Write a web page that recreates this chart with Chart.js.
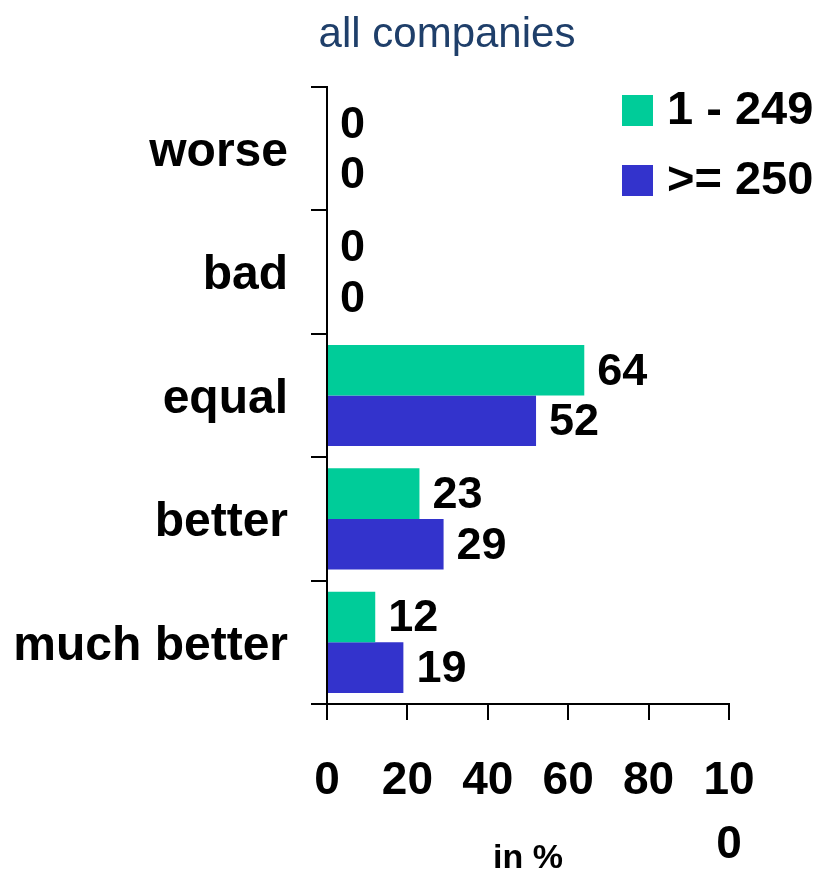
<!DOCTYPE html>
<html>
<head>
<meta charset="utf-8">
<script src="https://cdn.jsdelivr.net/npm/chart.js@4/dist/chart.umd.min.js"></script>
<style>
  body { margin: 0; background: #fff; }
  #wrap { position: relative; width: 816px; height: 879px; font-family: "Liberation Sans", Arial, sans-serif; }
  #title { position: absolute; left: 247px; width: 400px; top: 9px; text-align: center; font-size: 42px; color: #1f3f6a; }
  .leg { position: absolute; left: 622px; font-size: 47px; font-weight: bold; color: #000; white-space: nowrap; }
  .leg span { display: inline-block; width: 31px; height: 31px; margin-right: 14px; vertical-align: -2px; }
</style>
</head>
<body>
<div id="wrap">
  <canvas id="chart" width="816" height="879"></canvas>
  <div id="title">all companies</div>
  <div class="leg" style="top:80px"><span style="background:#00cc99"></span>1 - 249</div>
  <div class="leg" style="top:150px"><span style="background:#3333cc"></span>&gt;= 250</div>
</div>
<script>
const CATEGORIES = ['worse', 'bad', 'equal', 'better', 'much better'];
const SMALL      = [0, 0, 64, 23, 12];   // 1 - 249 employees
const LARGE      = [0, 0, 52, 29, 19];   // >= 250 employees
const X_TICKS    = [0, 20, 40, 60, 80, 100];

const FONT = '"Liberation Sans", Arial, sans-serif';

// value labels just right of each bar end
const barLabels = {
  id: 'barLabels',
  afterDatasetsDraw(chart) {
    const ctx = chart.ctx;
    ctx.save();
    ctx.font = 'bold 45px ' + FONT;
    ctx.fillStyle = '#000';
    ctx.textAlign = 'left';
    ctx.textBaseline = 'middle';
    chart.data.datasets.forEach((ds, i) => {
      chart.getDatasetMeta(i).data.forEach((bar, j) => {
        ctx.fillText(String(ds.data[j]), bar.x + 13, bar.y + 2);
      });
    });
    ctx.restore();
  }
};

new Chart(document.getElementById('chart'), {
  type: 'bar',
  data: {
    labels: CATEGORIES,
    datasets: [
      { label: '1 - 249', data: SMALL, backgroundColor: '#00cc99', categoryPercentage: 0.82, barPercentage: 1 },
      { label: '>= 250', data: LARGE, backgroundColor: '#3333cc', categoryPercentage: 0.82, barPercentage: 1 }
    ]
  },
  options: {
    indexAxis: 'y',
    responsive: false,
    animation: false,
    layout: { padding: { top: 87, right: 87, bottom: 0, left: 0 } },
    plugins: { legend: { display: false }, title: { display: false }, tooltip: { enabled: false } },
    scales: {
      y: {
        afterFit: (s) => { s.width = 327; },
        grid: { drawOnChartArea: false, tickLength: 16, color: '#000', lineWidth: 2 },
        border: { color: '#000', width: 2 },
        ticks: { color: '#000', padding: 23, labelOffset: 4, font: { family: FONT, size: 48, weight: 'bold' } }
      },
      x: {
        min: 0,
        max: 100,
        afterFit: (s) => { s.height = 175; },
        afterBuildTicks: (s) => { s.ticks = X_TICKS.map(v => ({ value: v })); },
        grid: { drawOnChartArea: false, tickLength: 16, color: '#000', lineWidth: 2 },
        border: { color: '#000', width: 2 },
        ticks: {
          color: '#000',
          padding: 30,
          maxRotation: 0,
          font: { family: FONT, size: 46, weight: 'bold', lineHeight: 1.38 },
          callback: (v) => v === 100 ? ['10', '0'] : String(v)
        },
        title: {
          display: true, text: 'in %', color: '#000', padding: { top: 0, bottom: 0 },
          font: { family: FONT, size: 34, weight: 'bold' }
        }
      }
    }
  },
  plugins: [barLabels]
});
</script>
</body>
</html>
